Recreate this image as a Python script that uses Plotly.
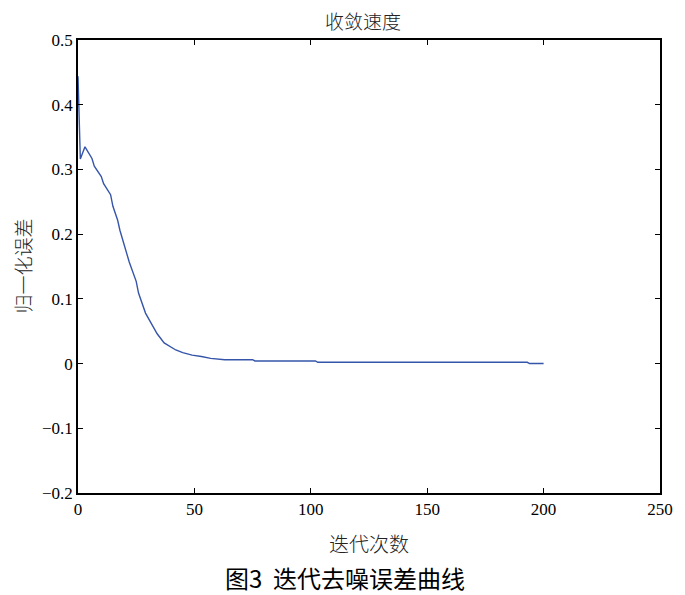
import plotly.graph_objects as go

# Sampled points of the convergence curve (iteration, normalized error)
iterations = [0, 1, 3, 6, 7, 10, 11, 14, 15, 17, 18, 20, 22, 25, 26, 29, 31, 34, 37, 40, 42, 45, 49, 53, 57, 63, 75, 76, 102, 103, 193, 194, 200]
errors = [0.444, 0.316, 0.335, 0.317, 0.305, 0.289, 0.278, 0.261, 0.243, 0.222, 0.206, 0.183, 0.157, 0.127, 0.109, 0.078, 0.065, 0.046, 0.032, 0.025, 0.021, 0.017, 0.013, 0.011, 0.008, 0.006, 0.006, 0.004, 0.004, 0.002, 0.002, 0.0, 0.0]

y_tickvals = [0.5, 0.4, 0.3, 0.2, 0.1, 0, -0.1, -0.2]
y_ticktext = ["0.5", "0.4", "0.3", "0.2", "0.1", "0", "\u22120.1", "\u22120.2"]
x_tickvals = [0, 50, 100, 150, 200, 250]
x_ticktext = ["0", "50", "100", "150", "200", "250"]

title_text = "收敛速度"
x_title = "迭代次数"
y_title = "归一化误差"
caption = "图3  迭代去噪误差曲线"

fig = go.Figure()
fig.add_trace(go.Scatter(x=iterations, y=errors, mode="lines",
                         line=dict(color="#3555aa", width=1.4), showlegend=False))

serif = "Liberation Serif"
cjk = "Noto Sans CJK SC"

axis_common = dict(showgrid=False, zeroline=False, showline=True, linecolor="black",
                   linewidth=1.5, mirror="ticks", ticks="inside", ticklen=5,
                   tickcolor="black", tickwidth=1,
                   tickfont=dict(family=serif, size=17, color="black"))

fig.update_layout(
    width=685, height=595,
    margin=dict(l=70, r=33, t=32, b=110),
    paper_bgcolor="white", plot_bgcolor="white",
    xaxis=dict(range=[0, 250], tickvals=x_tickvals, ticktext=x_ticktext, **axis_common),
    yaxis=dict(range=[-0.2, 0.5], tickvals=y_tickvals, ticktext=y_ticktext, **axis_common),
)

fig.add_annotation(text=title_text, xref="paper", yref="paper", x=0.49, y=1, yshift=20,
                   xanchor="center", yanchor="middle", borderpad=0,
                   showarrow=False, font=dict(family=cjk, size=19, color="#222222", weight=300))
fig.add_annotation(text=x_title, xref="paper", yref="paper", x=0.5, y=0, yshift=-50,
                   xanchor="center", yanchor="middle",
                   showarrow=False, font=dict(family=cjk, size=20, color="#222222", weight=300))
fig.add_annotation(text=y_title, xref="paper", yref="paper", x=0, xshift=-56, y=0.5,
                   xanchor="center", yanchor="middle", borderpad=0,
                   textangle=-90, showarrow=False, font=dict(family=cjk, size=19, color="#222222", weight=300))
fig.add_annotation(text=caption, xref="paper", yref="paper", x=0.459, y=0, yshift=-84,
                   xanchor="center", yanchor="middle",
                   showarrow=False, font=dict(family=cjk, size=24, color="black"))

fig.write_html("out.html")
